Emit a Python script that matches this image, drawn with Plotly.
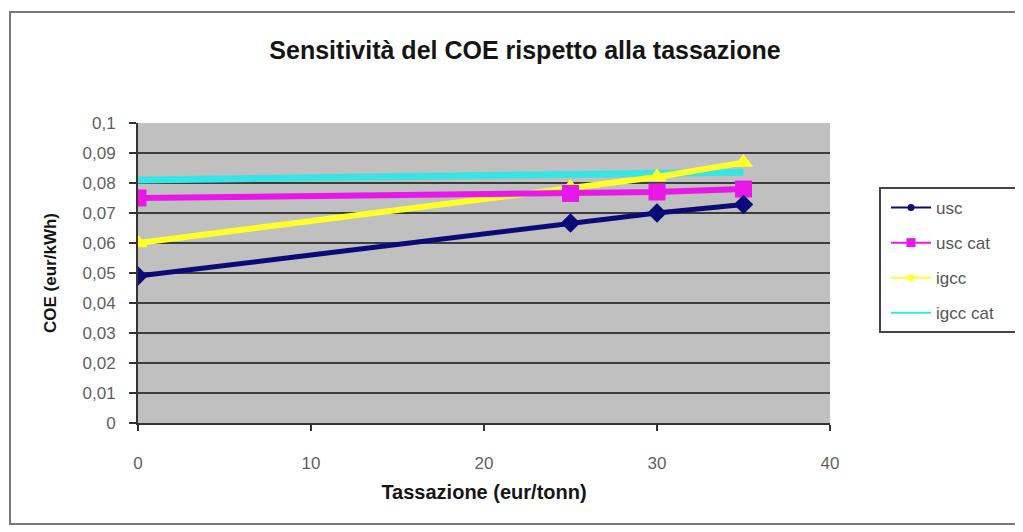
import plotly.graph_objects as go

tassazione = [0, 25, 30, 35]
usc = [0.049, 0.0667, 0.0700, 0.0728]
usc_cat = [0.0750, 0.0765, 0.0770, 0.0780]
igcc = [0.0600, 0.0785, 0.0820, 0.0868]
igcc_cat = [0.0810, 0.0825, 0.0830, 0.0836]

y_ticks = [0, 0.01, 0.02, 0.03, 0.04, 0.05, 0.06, 0.07, 0.08, 0.09, 0.1]
y_tick_labels = ["0", "0,01", "0,02", "0,03", "0,04", "0,05", "0,06", "0,07", "0,08", "0,09", "0,1"]
x_ticks = [0, 10, 20, 30, 40]

FONT = "Liberation Sans, Arial, sans-serif"

# page body has an 8px margin: figure coordinates = screen pixels - 8
W, H = 1015, 524
L, R, T, B = 130, 822, 115, 415  # plot area in figure pixels


def px(xp):
    return (xp - 8 - L) / (R - L)


def py(yp):
    return (B - (yp - 8)) / (B - T)


series = [
    ("usc", usc, "#0A0A78", "diamond", 5, 15),
    ("usc cat", usc_cat, "#E818E8", "square", 6, 17),
    ("igcc", igcc, "#FFFF2A", "triangle-up", 6, 17),
    ("igcc cat", igcc_cat, "#38E4E4", None, 7, 0),
]

fig = go.Figure()
for name, vals, col, sym, lw, ms in reversed(series):
    if sym:
        fig.add_trace(go.Scatter(x=tassazione, y=vals, name=name, mode="lines+markers",
                                 line=dict(color=col, width=lw),
                                 marker=dict(symbol=sym, size=ms, color=col),
                                 showlegend=False))
    else:
        fig.add_trace(go.Scatter(x=tassazione, y=vals, name=name, mode="lines",
                                 line=dict(color=col, width=lw), showlegend=False))

# legend entries (thin Excel-style samples)
for i, (name, vals, col, sym, lw, ms) in enumerate(series):
    fig.add_trace(go.Scatter(x=[None], y=[None], name=name,
                             mode="lines+markers" if sym else "lines",
                             line=dict(color=col, width=2),
                             marker=dict(symbol="square" if sym == "square" else "circle",
                                         size=9 if sym == "square" else 7, color=col),
                             legendgroup=name, legendrank=i + 1))

fig.update_layout(
    width=W, height=H,
    margin=dict(l=L, r=W - R, t=T, b=H - B),
    paper_bgcolor="white",
    plot_bgcolor="#C0C0C0",
    font=dict(family=FONT, size=17, color="#555555"),
    title=dict(text="<b>Sensitività del COE rispetto alla tassazione</b>",
               x=px(525), xref="paper", xanchor="center", y=1 - 42 / H, yanchor="middle",
               font=dict(family=FONT, size=25, color="#151515")),
    xaxis=dict(range=[0, 40], tickvals=x_ticks, showgrid=False, zeroline=False,
               showline=True, linecolor="#333333", linewidth=2,
               ticks="outside", ticklen=6, tickwidth=2, tickcolor="#333333",
               ticklabelstandoff=18,
               title=dict(text="<b>Tassazione (eur/tonn)</b>", standoff=13,
                          font=dict(family=FONT, size=20, color="#151515")),
               tickfont=dict(size=17, color="#5f5f5f")),
    yaxis=dict(range=[0, 0.1], tickvals=y_ticks, ticktext=y_tick_labels,
               showgrid=True, gridcolor="#3c3c3c", gridwidth=2, zeroline=False,
               showline=True, linecolor="#333333", linewidth=2,
               ticks="outside", ticklen=7, tickwidth=2, tickcolor="#333333",
               ticklabelstandoff=10,
               title=dict(text="<b>COE (eur/kWh)</b>", standoff=22,
                          font=dict(family=FONT, size=17, color="#151515")),
               tickfont=dict(size=17, color="#5f5f5f")),
    legend=dict(x=px(886), y=py(190), xanchor="left", yanchor="top",
                bgcolor="rgba(0,0,0,0)", borderwidth=0,
                font=dict(family=FONT, size=17, color="#555555"),
                tracegroupgap=10, itemwidth=40),
    showlegend=True,
)

# legend frame
fig.add_shape(type="rect", xref="paper", yref="paper",
              x0=px(880), x1=px(1040), y0=py(332), y1=py(188),
              line=dict(color="#444444", width=2), fillcolor="white", layer="below")

# chart area border
fig.add_shape(type="rect", xref="paper", yref="paper",
              x0=px(10), x1=px(1040), y0=py(524), y1=py(12),
              line=dict(color="#7a7a7a", width=2), fillcolor="rgba(0,0,0,0)", layer="below")

fig.write_html("out.html")
